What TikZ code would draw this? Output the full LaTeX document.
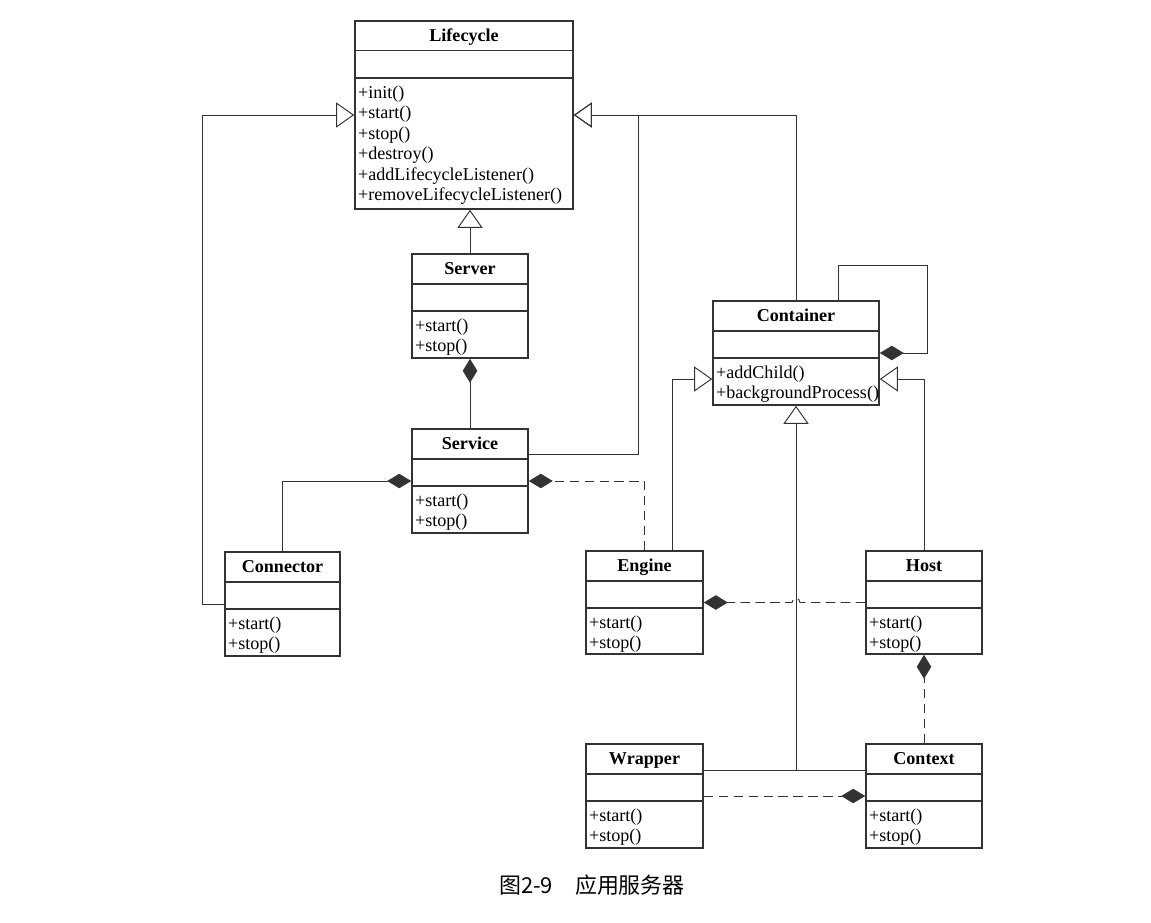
\documentclass[tikz,border=0pt]{standalone}
\usepackage{fontspec}
\setmainfont{Liberation Serif}
\newfontfamily\cjk{Noto Sans CJK SC}
\usepackage{tikz}
\usetikzlibrary{arrows.meta, positioning, calc, fit}
\tikzset{
  classbox/.style={draw=black!80, line width=0.9pt, inner sep=0pt},
  classtitle/.style={font=\fontsize{10.3}{11.7}\selectfont\bfseries, inner sep=0pt, anchor=base},
  classops/.style={font=\fontsize{10.3}{11.7}\selectfont, align=left, inner xsep=2pt, inner ysep=4pt},
  link/.style={draw=black!80, line width=0.55pt},
  inherit/.style={link, -{Triangle[open, length=3.6mm, width=5mm]}},
  compose/.style={link, -{Diamond[length=4.8mm, width=2.9mm]}},
  weak/.style={dash pattern=on 5.5pt off 3pt},
  caption/.style={font=\cjk\fontsize{12.5}{14}\selectfont, inner sep=0pt}
}
% name, left, top, right, bottom, title, operations
\newcommand{\umlclass}[7]{%
  \node[classbox, fit={(#2,#3) (#4,#5)}] (#1) {};
  \draw[classbox] ($(#1.north west)+(0,30.5)$) -- ($(#1.north east)+(0,30.5)$);
  \draw[classbox] ($(#1.north west)+(0,58)$) -- ($(#1.north east)+(0,58)$);
  \node[classtitle] (#1-name) at ($(#1.north)+(0,21)$) {#6};
  \node[classops, anchor=north west] (#1-ops) at ($(#1.north west)+(0,58)$) {#7};
}

\begin{document}
\begin{tikzpicture}[x=0.02cm, y=-0.02cm]
        \useasboundingbox (0,0) rectangle (1151,922);

        % Classes
        \umlclass{Lifecycle}{355}{21}{573}{209}{Lifecycle}{+init()\\+start()\\+stop()\\+destroy()\\+addLifecycleListener()\\+removeLifecycleListener()}
        \umlclass{Server}{412}{254}{528}{358}{Server}{+start()\\+stop()}
        \umlclass{Service}{412}{429}{528}{533}{Service}{+start()\\+stop()}
        \umlclass{Connector}{225}{552}{340}{656}{Connector}{+start()\\+stop()}
        \umlclass{Container}{713}{301}{879}{405}{Container}{+addChild()\\+backgroundProcess()}
        \umlclass{Engine}{586}{551}{703}{654}{Engine}{+start()\\+stop()}
        \umlclass{Host}{866}{551}{982}{654}{Host}{+start()\\+stop()}
        \umlclass{Wrapper}{586}{744}{703}{848}{Wrapper}{+start()\\+stop()}
        \umlclass{Context}{866}{744}{982}{848}{Context}{+start()\\+stop()}

        % Bend points
        \coordinate (bendC) at ($(Connector.west)+(-22,0)$);
        \coordinate (bendS) at ($(Service.north east)+(110,26)$);
        \coordinate (jn) at ($(Wrapper.east)+(0,-26)$);

        % Generalization
        \draw[inherit] (Server.north) -- (Server.north |- Lifecycle.south);
        \draw[inherit] (Connector.west) -- (bendC) |- (Lifecycle.west);
        \draw[inherit] ($(Service.north east)+(0,26)$) -- (bendS) |- (Lifecycle.east);
        \draw[inherit] (Container.north) |- (Lifecycle.east);
        \draw[inherit] ($(Engine.north)+(28,0)$) |- ($(Container.west)+(0,26)$);
        \draw[inherit] (Host.north) |- ($(Container.east)+(0,26)$);
        \draw[inherit] (Container.south |- jn) -- (Container.south);
        \draw[link] (Wrapper.east |- jn) -- (Context.west |- jn);

        % Composition
        \draw[compose] (Service.north) -- (Server.south);
        \draw[compose] (Connector.north) |- (Service.west);
        \draw[compose, weak] (Engine.north) |- (Service.east);
        \draw[compose] ($(Container.north)+(42,0)$) -- ++(0,-35) -| ($(Container.east)+(48,0)$) -- (Container.east);
        \draw[compose, weak] (Host.west) -- ($(Container.south |- Host.west)+(4,0)$)
            arc[start angle=0, end angle=180, radius=0.08cm] -- (Engine.east);
        \draw[compose, weak] (Context.north) -- (Host.south);
        \draw[compose, weak] (Wrapper.east) -- (Context.west);

        % Caption
        \node[caption] (cap) at (592,885) {图2-9\hspace{1em}应用服务器};
    \end{tikzpicture}
\end{document}
